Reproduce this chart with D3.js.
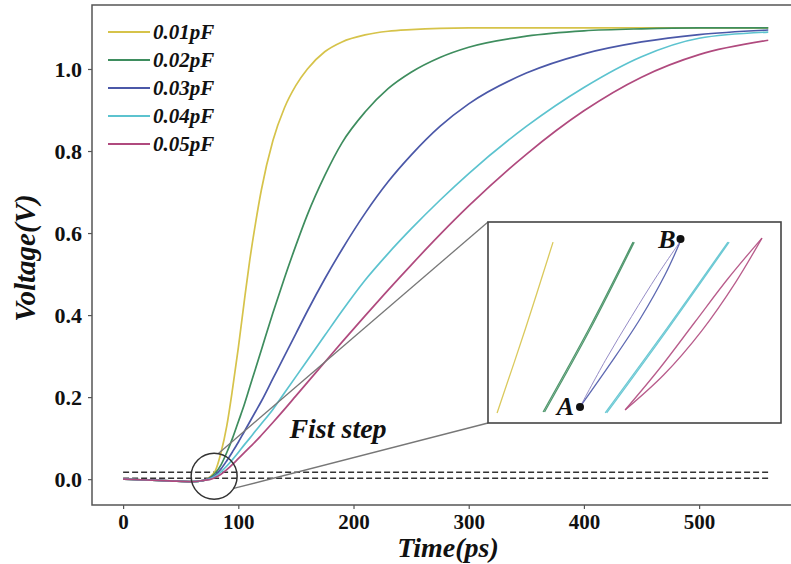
<!DOCTYPE html>
<html><head><meta charset="utf-8">
<script src="https://cdn.jsdelivr.net/npm/d3@7/dist/d3.min.js"></script>
<style>body{margin:0;background:#fff}svg{display:block}</style>
</head><body>
<script>
// ---- data ----
const labels = ["0.01pF","0.02pF","0.03pF","0.04pF","0.05pF"];
const colors = ["#d6c34a","#3e8d5e","#4b58a8","#5cc3cf","#b04a7e"];
const time = [0,20,40,60,70,75,80,85,90,95,100,105,110,115,120,130,140,150,160,175,190,210,230,250,275,300,350,400,450,500,560];
const v001 = [0,-0.002,-0.004,-0.006,-0.003,0.005,0.02,0.065,0.13,0.22,0.32,0.43,0.535,0.625,0.705,0.825,0.905,0.96,1.0,1.042,1.066,1.083,1.092,1.096,1.099,1.1,1.1,1.1,1.1,1.1,1.1];
const v002 = [0,-0.002,-0.004,-0.006,-0.003,0.003,0.015,0.035,0.065,0.10,0.14,0.18,0.225,0.27,0.315,0.405,0.49,0.57,0.645,0.74,0.82,0.895,0.952,0.992,1.028,1.053,1.08,1.093,1.098,1.1,1.1];
const v003 = [0,-0.002,-0.004,-0.006,-0.003,0.002,0.01,0.025,0.045,0.067,0.09,0.115,0.14,0.165,0.19,0.245,0.30,0.355,0.41,0.488,0.56,0.648,0.725,0.79,0.86,0.915,0.99,1.037,1.066,1.084,1.095];
const v004 = [0,-0.002,-0.004,-0.006,-0.003,0.0,0.007,0.018,0.032,0.048,0.065,0.083,0.10,0.118,0.135,0.17,0.21,0.25,0.29,0.35,0.41,0.485,0.55,0.61,0.68,0.745,0.86,0.955,1.03,1.075,1.09];
const v005 = [0,-0.002,-0.004,-0.006,-0.003,-0.001,0.004,0.012,0.023,0.036,0.05,0.064,0.078,0.092,0.107,0.138,0.17,0.203,0.236,0.285,0.334,0.398,0.461,0.522,0.596,0.666,0.792,0.898,0.98,1.035,1.07];
const series = [v001,v002,v003,v004,v005];
const xTicks = [0,100,200,300,400,500];
const yTicks = [0.0,0.2,0.4,0.6,0.8,1.0];
const thresholds = [0.002, 0.017];   // dashed reference levels (V)
const zoomCenter = [79, 0.007];      // circled region (ps, V)
// inset (zoomed view) segments, in inset units 0..1
const insetU = {
  y1:[0.031,0.128,0.222],
  g1:[0.188,0.345,0.495], g2:[0.193,0.350,0.499],
  b1:[0.314,0.42,0.52,0.605,0.657], b2:[0.314,0.40,0.49,0.58,0.657],
  c1:[0.400,0.61,0.819], c2:[0.405,0.615,0.823],
  m1:[0.468,0.60,0.73,0.845,0.935], m2:[0.468,0.585,0.705,0.82,0.935]
};
const insetW = {
  y1:[0.05,0.47,0.90],
  g1:[0.055,0.47,0.90], g2:[0.055,0.47,0.90],
  b1:[0.08,0.30,0.52,0.74,0.905], b2:[0.08,0.31,0.53,0.74,0.905],
  c1:[0.05,0.47,0.90], c2:[0.05,0.47,0.90],
  m1:[0.065,0.24,0.46,0.70,0.92], m2:[0.065,0.27,0.50,0.72,0.92]
};
const insetColor = {y1:0,g1:1,g2:1,b1:2,b2:2,c1:3,c2:3,m1:4,m2:4};
const pointA = [0.314,0.08], pointB = [0.657,0.915];

// ---- drawing ----
const W=791,H=564;
const svg=d3.select("body").append("svg").attr("width",W).attr("height",H);
const x=d3.scaleLinear().domain([-27,588]).range([92,800.5]);
const y=d3.scaleLinear().domain([-0.063,1.156]).range([505,5]);
const serif="'Liberation Serif','Times New Roman',serif";
const axisCol="#555";

// axes
const gx=svg.append("g").attr("transform","translate(0,505)")
  .call(d3.axisBottom(x).tickValues(xTicks).tickFormat(d3.format("d")).tickSize(4).tickPadding(5));
const gy=svg.append("g").attr("transform","translate(92,0)")
  .call(d3.axisLeft(y).tickValues(yTicks).tickFormat(d3.format(".1f")).tickSize(4).tickPadding(6));
[gx,gy].forEach(g=>{
  g.select(".domain").remove();
  g.selectAll("line").attr("stroke",axisCol).attr("stroke-width",1.2);
  g.selectAll("text").attr("font-family",serif).attr("font-weight","bold").attr("font-size",21).attr("fill","#111");
});
gy.selectAll("text").attr("dy","0.35em").attr("font-size",22);
// spines
svg.append("path").attr("d",`M${x(588)},5H92V505H${x(588)}V5`).attr("fill","none").attr("stroke",axisCol).attr("stroke-width",1.5);

// dashed reference lines
thresholds.forEach(t=>{
  svg.append("line").attr("x1",x(0)).attr("x2",x(560)).attr("y1",y(t)).attr("y2",y(t))
    .attr("stroke","#333").attr("stroke-width",1.5).attr("stroke-dasharray","6,3");
});

// curves
const line=d3.line().x((d,i)=>x(time[i])).y(d=>y(d)).curve(d3.curveMonotoneX);
series.forEach((s,k)=>{
  svg.append("path").attr("d",line(s)).attr("fill","none").attr("stroke",colors[k]).attr("stroke-width",1.7);
});

// legend
labels.forEach((l,k)=>{
  const yy=32+k*28;
  svg.append("line").attr("x1",108).attr("x2",150).attr("y1",yy).attr("y2",yy).attr("stroke",colors[k]).attr("stroke-width",2);
  svg.append("text").attr("x",153).attr("y",yy).attr("dy","0.35em").text(l)
    .attr("font-family",serif).attr("font-style","italic").attr("font-weight","bold").attr("font-size",21).attr("fill","#111");
});

// inset box
const u=d3.scaleLinear().domain([0,1]).range([488,781]);
const w=d3.scaleLinear().domain([0,1]).range([423,222]);
const cx=x(zoomCenter[0]), cy=y(zoomCenter[1]), r=23;
// connectors
const a1=-80*Math.PI/180, a2=32*Math.PI/180;
svg.append("line").attr("x1",cx+r*Math.cos(a1)).attr("y1",cy+r*Math.sin(a1)).attr("x2",u(0)).attr("y2",w(1)).attr("stroke","#777").attr("stroke-width",1.3);
svg.append("line").attr("x1",cx+r*Math.cos(a2)).attr("y1",cy+r*Math.sin(a2)).attr("x2",u(0)).attr("y2",w(0)).attr("stroke","#777").attr("stroke-width",1.3);
svg.append("circle").attr("cx",cx).attr("cy",cy).attr("r",r).attr("fill","none").attr("stroke","#333").attr("stroke-width",1.5);

svg.append("rect").attr("x",u(0)).attr("y",w(1)).attr("width",u(1)-u(0)).attr("height",w(0)-w(1))
  .attr("fill","#fff").attr("stroke","#444").attr("stroke-width",1.6);
const il=d3.line().x(d=>u(d[0])).y(d=>w(d[1])).curve(d3.curveCatmullRom);
Object.keys(insetU).forEach(key=>{
  const pts=insetU[key].map((v,i)=>[v,insetW[key][i]]);
  const thin = key==="b2";
  svg.append("path").attr("d",il(pts)).attr("fill","none")
    .attr("stroke",thin?"#8a7fc0":colors[insetColor[key]])
    .attr("stroke-width",thin?1:1.3).attr("opacity",0.9);
});
[pointA,pointB].forEach(p=>svg.append("circle").attr("cx",u(p[0])).attr("cy",w(p[1])).attr("r",4).attr("fill","#111"));
svg.append("text").attr("x",u(pointA[0])-6).attr("y",w(pointA[1])+8).attr("text-anchor","end").text("A")
  .attr("font-family",serif).attr("font-style","italic").attr("font-weight","bold").attr("font-size",26).attr("fill","#111");
svg.append("text").attr("x",u(pointB[0])-5).attr("y",w(pointB[1])+9).attr("text-anchor","end").text("B")
  .attr("font-family",serif).attr("font-style","italic").attr("font-weight","bold").attr("font-size",26).attr("fill","#111");

// annotation
svg.append("text").attr("x",338).attr("y",438).attr("text-anchor","middle").text("Fist step")
  .attr("font-family",serif).attr("font-style","italic").attr("font-weight","bold").attr("font-size",28).attr("fill","#111");

// axis titles
svg.append("text").attr("x",448).attr("y",557).attr("text-anchor","middle").text("Time(ps)")
  .attr("font-family",serif).attr("font-style","italic").attr("font-weight","bold").attr("font-size",28).attr("fill","#111");
svg.append("text").attr("transform","translate(35,258) rotate(-90)").attr("text-anchor","middle").text("Voltage(V)")
  .attr("font-family",serif).attr("font-style","italic").attr("font-weight","bold").attr("font-size",29).attr("fill","#111");
</script>
</body></html>
